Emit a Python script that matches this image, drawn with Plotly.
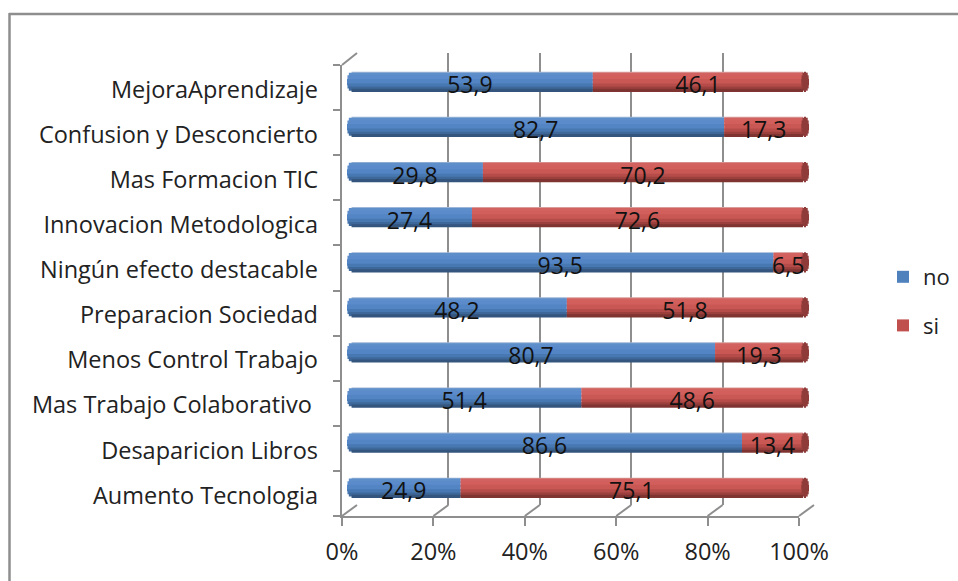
import plotly.graph_objects as go

categories = ["Aumento Tecnologia", "Desaparicion Libros", "Mas Trabajo Colaborativo ",
              "Menos Control Trabajo", "Preparacion Sociedad", "Ningún efecto destacable",
              "Innovacion Metodologica", "Mas Formacion TIC", "Confusion y Desconcierto",
              "MejoraAprendizaje"]
no_values = [24.9, 86.6, 51.4, 80.7, 48.2, 93.5, 27.4, 29.8, 82.7, 53.9]
si_values = [75.1, 13.4, 48.6, 19.3, 51.8, 6.5, 72.6, 70.2, 17.3, 46.1]
x_ticks = [0, 20, 40, 60, 80, 100]
x_tick_labels = ["0%", "20%", "40%", "60%", "80%", "100%"]

W, H = 958, 581
BLUE, RED = "#4F81BD", "#C0504D"
GREY = "#8E8E8E"
FONT = "Open Sans, sans-serif"
TEXT = "#222222"
FS = 23.5

def sx(p):
    return p / W

def sy(p):
    return 1 - p / H

def px_x(a, b):
    return [sx(a), sx(b)]

def px_y(top, bottom):
    return [sy(bottom), sy(top)]

def label(v):
    return f"{v:.1f}".replace(".", ",")

# cylinder shading: (lower edge in category units, thickness, no colour, si colour, end inset %)
bands = [
    (0.18, 0.03, "#9DB5D6", "#D99C9A", 1.0),
    (0.12, 0.07, "#5E8FCB", "#D2625F", 0.4),
    (0.04, 0.09, "#5B8BCA", "#D25F5C", 0.1),
    (-0.06, 0.11, "#5384C3", "#C95854", 0.0),
    (-0.13, 0.08, "#4878B2", "#B54C49", 0.1),
    (-0.18, 0.06, "#3E6899", "#9C403E", 0.4),
    (-0.21, 0.04, "#33557E", "#7F3432", 1.0),
]

fig = go.Figure()

# axes that carry no visible marks still need a trace to be laid out:
# x/y = back wall grid (drawn first), x2/y2 = front axis ticks, x5/y5 = category labels
for ax, ay in [("x", "y"), ("x2", "y2"), ("x5", "y5")]:
    fig.add_trace(go.Scatter(x=[0], y=[categories[0]], xaxis=ax, yaxis=ay, mode="none",
                             showlegend=False, hoverinfo="skip"))

for low, thick, c_no, c_si, inset in bands:
    common = dict(y=categories, orientation="h", width=thick + 0.03, offset=low,
                  xaxis="x3", yaxis="y3", showlegend=False, hoverinfo="skip")
    fig.add_trace(go.Bar(x=[v - inset for v in no_values], base=[inset] * 10,
                         marker=dict(color=c_no, line_width=0), **common))
    fig.add_trace(go.Bar(x=si_values, base=no_values,
                         marker=dict(color=c_si, line_width=0), **common))
    # dark right-hand cap of the cylinder
    fig.add_trace(go.Bar(x=[1.7 - inset * 1.4] * 10, base=[99.6 + inset * 0.7] * 10,
                         marker=dict(color="#8E3B39", line_width=0), **common))

# legend entries
for name, color, grp in [("no", BLUE, "a"), ("si", RED, "b")]:
    fig.add_trace(go.Bar(y=[categories[0]], x=[0], name=name, orientation="h", legendgroup=grp,
                         marker=dict(color=color, line_width=0), xaxis="x3", yaxis="y3",
                         hoverinfo="skip"))

# data labels
label_font = dict(size=23, color="#111111", family=FONT)
fig.add_trace(go.Scatter(
    x=[v / 2 for v in no_values], y=categories, mode="text", text=[label(v) for v in no_values],
    textposition="middle center", textfont=label_font,
    xaxis="x4", yaxis="y4", showlegend=False, hoverinfo="skip"))
fig.add_trace(go.Scatter(
    x=[n + s / 2 for n, s in zip(no_values, si_values)], y=categories, mode="text",
    text=[label(v) for v in si_values],
    textposition="middle center", textfont=label_font,
    xaxis="x4", yaxis="y4", showlegend=False, hoverinfo="skip"))

cat_axis = dict(type="category", categoryorder="array", categoryarray=categories,
                range=[-0.5, 9.5], fixedrange=True)
val_axis = dict(range=[0, 100], fixedrange=True)
bar_val_axis = dict(range=[0, 101.3], fixedrange=True)
hidden = dict(showticklabels=False, ticks="", showgrid=False, showline=False, zeroline=False)

line_style = dict(color=GREY, width=2)
# outer frame (open at right and bottom), floor slants, top of side wall
shapes = [
    dict(type="line", xref="paper", yref="paper", x0=sx(9), x1=sx(958), y0=sy(14), y1=sy(14),
         line=dict(color=GREY, width=2.5), layer="below"),
    dict(type="line", xref="paper", yref="paper", x0=sx(9.5), x1=sx(9.5), y0=sy(13), y1=sy(581),
         line=dict(color=GREY, width=2.5), layer="below"),
]
front = [342 + 457 * t / 100 for t in x_ticks]
for f in front:
    shapes.append(dict(type="line", xref="paper", yref="paper", x0=sx(f), y0=sy(516),
                       x1=sx(f + 15), y1=sy(505), line=line_style, layer="below"))
shapes.append(dict(type="line", xref="paper", yref="paper", x0=sx(342), y0=sy(65),
                   x1=sx(357), y1=sy(53), line=line_style, layer="below"))

fig.update_layout(
    width=W, height=H, margin=dict(l=0, r=0, t=0, b=0, autoexpand=False), autosize=False,
    paper_bgcolor="white", plot_bgcolor="rgba(0,0,0,0)", barmode="overlay", shapes=shapes,
    font=dict(family=FONT, color=TEXT, size=FS),
    legend=dict(x=sx(883), y=sy(256), xanchor="left", yanchor="top", bgcolor="rgba(0,0,0,0)",
                font=dict(size=22, family=FONT, color=TEXT), tracegroupgap=17, itemwidth=30,
                traceorder="grouped"),
    # back wall gridlines
    xaxis=dict(domain=px_x(357, 814), anchor="y", tickmode="array", tickvals=x_ticks,
               showticklabels=False, ticks="", showgrid=True, gridcolor=GREY, gridwidth=2,
               showline=False, zeroline=False, **val_axis),
    yaxis=dict(domain=px_y(53, 505), anchor="x", **hidden, **cat_axis),
    # front axis: value labels and tick marks
    xaxis2=dict(domain=px_x(342, 799), anchor="y2", tickmode="array", tickvals=x_ticks,
                ticktext=x_tick_labels, ticks="outside", ticklen=8, tickwidth=2, tickcolor=GREY,
                showline=True, linewidth=2, linecolor=GREY, showgrid=False, zeroline=False,
                ticklabelstandoff=6, tickfont=dict(size=FS, family=FONT, color=TEXT), **val_axis),
    yaxis2=dict(domain=px_y(65, 516), anchor="x2", tickson="boundaries", ticks="outside", ticklen=7,
                tickwidth=2, tickcolor=GREY, showline=True, linewidth=2, linecolor=GREY,
                showgrid=False, zeroline=False, showticklabels=False, **cat_axis),
    # bars
    xaxis3=dict(domain=px_x(347, 809), anchor="y3", **hidden, **bar_val_axis),
    yaxis3=dict(domain=px_y(60, 511), anchor="x3", **hidden, **cat_axis),
    # data labels, sitting a little below the bar centres
    xaxis4=dict(domain=px_x(347, 809), anchor="y4", **hidden, **bar_val_axis),
    yaxis4=dict(domain=px_y(65, 516), anchor="x4", **hidden, **cat_axis),
    # category labels
    xaxis5=dict(domain=px_x(342, 799), anchor="y5", **hidden, **val_axis),
    yaxis5=dict(domain=px_y(67, 518), anchor="x5", showline=False, showgrid=False, zeroline=False,
                ticks="", ticklabelstandoff=23, tickfont=dict(size=FS, family=FONT, color=TEXT),
                **cat_axis),
)

fig.write_html("out.html", config=dict(displayModeBar=False),
               default_width=f"{W}px", default_height=f"{H}px",
               post_script="document.body.style.margin='0';document.documentElement.style.overflow='hidden';")
